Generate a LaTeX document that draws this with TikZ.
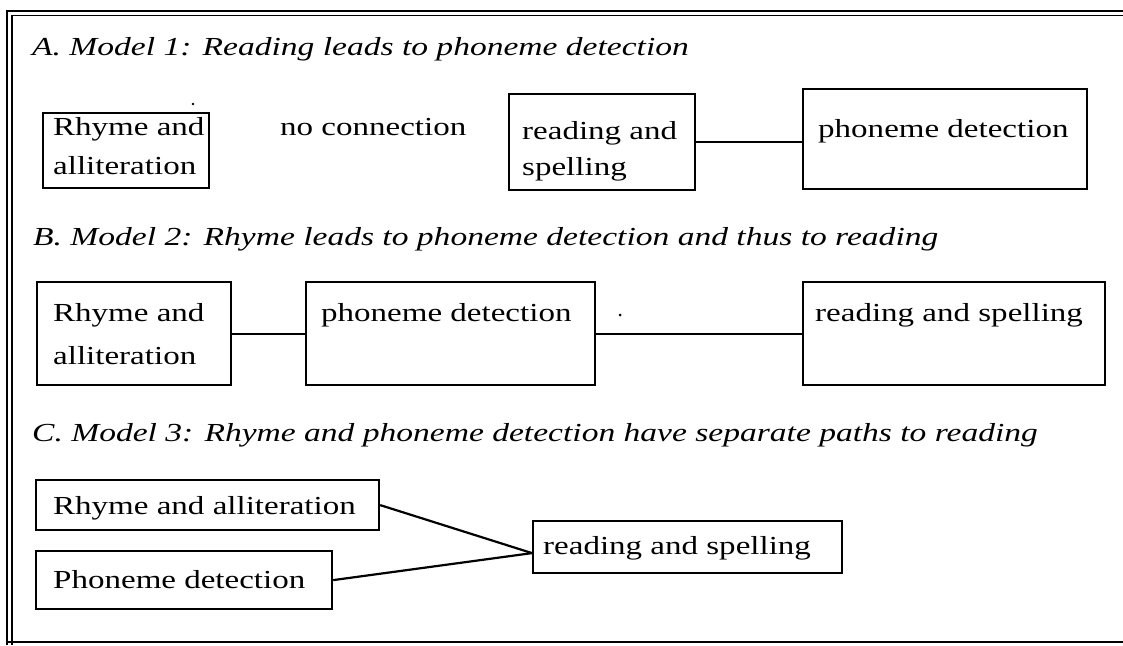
\documentclass[tikz,border=0pt]{standalone}
\usepackage{fontspec}
\setmainfont{Liberation Serif}[FakeStretch=1.27]
\newfontfamily\ttlfont{Liberation Serif}[FakeStretch=1.29]
\newcommand\bodyfont{\fontsize{26}{40}\selectfont}
\tikzset{
  box/.style={draw, line width=2.2pt, rectangle, inner sep=0pt, anchor=north west},
  txt/.style={anchor=base west, inner sep=0pt, font=\bodyfont},
  ttl/.style={anchor=base west, inner sep=0pt, font=\ttlfont\bodyfont\itshape},
  link/.style={line width=2.2pt},
  frameline/.style={line width=1.5pt}
}
\begin{document}
\begin{tikzpicture}[x=1pt,y=-1pt]
\useasboundingbox (0,0) rectangle (1123,645);
% frame
\draw[frameline] (7,645) -- (7,11) -- (1123,11);
\draw[frameline] (12,645) -- (12,15.5) -- (1123,15.5);
\draw[frameline] (7,642) -- (1123,642);

% ---- A ----
\node[ttl] (tA) at (32,55) {A. Model 1: Reading leads to phoneme detection};
\node[box, minimum width=166, minimum height=75] (a1) at (42,112) {};
\node[txt] (a1t1) at (53,135) {Rhyme and};
\node[txt] (a1t2) at (53,174) {alliteration};
\fill (193,104) circle (1.3);
\node[txt] (nc) at (280,135) {no connection};
\node[box, minimum width=186, minimum height=96] (a3) at (508,93) {};
\node[txt] (a3t1) at (522,139) {reading and};
\node[txt] (a3t2) at (522,175) {spelling};
\node[box, minimum width=284, minimum height=100] (a4) at (802,88) {};
\node[txt] (a4t) at (818,137) {phoneme detection};
\draw[link] (a3.east) -- (a3.east -| a4.west);

% ---- B ----
\node[ttl] (tB) at (33,245) {B. Model 2: Rhyme leads to phoneme detection and thus to reading};
\node[box, minimum width=194, minimum height=103] (b1) at (36,281) {};
\node[txt] (b1t1) at (53,321) {Rhyme and};
\node[txt] (b1t2) at (53,364) {alliteration};
\node[box, minimum width=289, minimum height=103] (b2) at (305,281) {};
\node[txt] (b2t) at (321,321) {phoneme detection};
\fill (620,315) circle (1.5);
\node[box, minimum width=302, minimum height=103] (b3) at (802,281) {};
\node[txt] (b3t) at (815,321) {reading and spelling};
\draw[link] (b1.east) -- (b2.west);
\draw[link] (b2.east) -- (b2.east -| b3.west);

% ---- C ----
\node[ttl] (tC) at (32,441) {C. Model 3: Rhyme and phoneme detection have separate paths to reading};
\node[box, minimum width=343, minimum height=50] (c1) at (35,479) {};
\node[txt] (c1t) at (53,514) {Rhyme and alliteration};
\node[box, minimum width=296, minimum height=58] (c2) at (35,550) {};
\node[txt] (c2t) at (53,588) {Phoneme detection};
\node[box, minimum width=309, minimum height=52] (c3) at (532,520) {};
\node[txt] (c3t) at (543,554) {reading and spelling};
\coordinate (c3in) at ([yshift=-6pt]c3.west);
\draw[link] (c1.east) -- (c3in);
\draw[link] (c2.east) -- (c3in);
\end{tikzpicture}
\end{document}
